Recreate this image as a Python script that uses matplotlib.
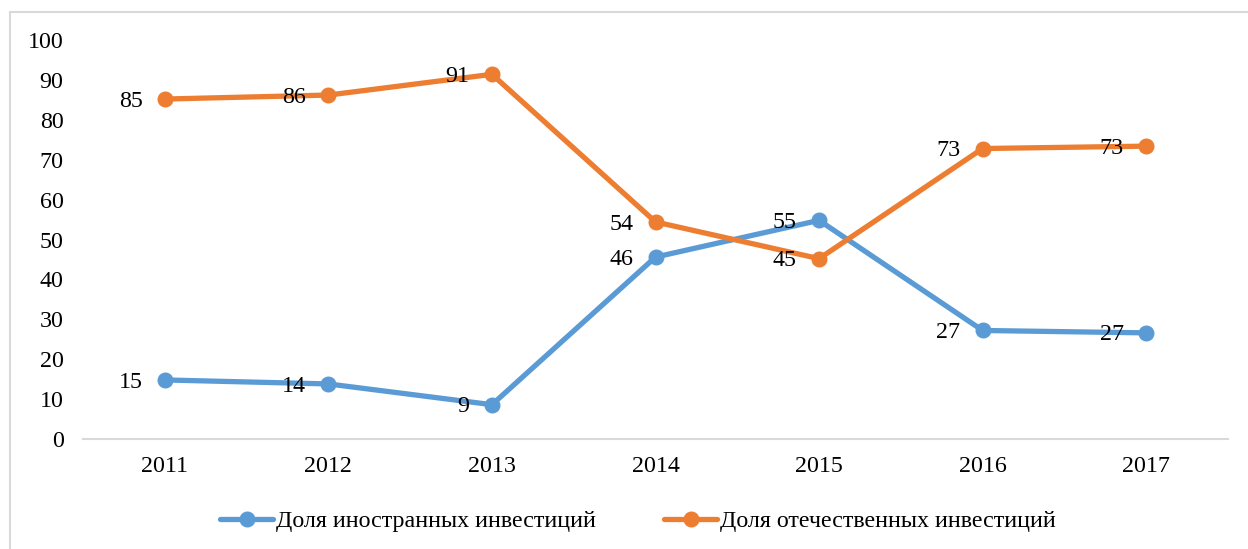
import matplotlib.pyplot as plt
from matplotlib.lines import Line2D
import numpy as np

plt.rcParams['font.family'] = ['Liberation Serif', 'DejaVu Serif']
plt.rcParams['font.size'] = 17.3

years = ['2011', '2012', '2013', '2014', '2015', '2016', '2017']
foreign = [14.8, 13.8, 8.6, 45.6, 54.8, 27.2, 26.6]
domestic = [85.2, 86.2, 91.4, 54.4, 45.2, 72.8, 73.4]
names = ['Доля иностранных инвестиций', 'Доля отечественных инвестиций']
colors = ['#5B9BD5', '#ED7D31']

fig = plt.figure(figsize=(12.48, 5.49), dpi=100)
ax = fig.add_axes([83 / 1248, 1 - 439 / 549, (1228 - 83) / 1248, 399 / 549])

x = np.arange(len(years))
for vals, name, c in zip([foreign, domestic], names, colors):
    ax.plot(x, vals, color=c, lw=3.8, marker='o', ms=10.5, label=name,
            solid_capstyle='round')
    for xi, v in zip(x, vals):
        ax.annotate(f'{v:.0f}', (xi, v), xytext=(-16, -1.5), textcoords='offset points',
                    ha='right', va='center', color='black')

ax.set_xlim(-0.5, len(years) - 0.5)
ax.set_ylim(0, 100)
ax.set_yticks(np.arange(0, 101, 10))
ax.set_xticks(x)
ax.set_xticklabels(years)
ax.tick_params(axis='y', length=0, pad=14)
ax.tick_params(axis='x', length=0, pad=12)
for s in ['top', 'right', 'left']:
    ax.spines[s].set_visible(False)
ax.spines['bottom'].set_color('#D9D9D9')
ax.spines['bottom'].set_linewidth(1.5)

fig.legend(loc='center', bbox_to_anchor=(638 / 1248, 1 - 521 / 549), ncol=2, frameon=False,
           handlelength=2.2, handletextpad=0.12, columnspacing=2.85)

# рамка
fig.add_artist(Line2D([10 / 1248, 1], [1 - 12 / 549, 1 - 12 / 549],
                      transform=fig.transFigure, color='#D9D9D9', lw=1.5))
fig.add_artist(Line2D([10 / 1248, 10 / 1248], [0, 1 - 12 / 549],
                      transform=fig.transFigure, color='#D9D9D9', lw=1.5))

fig.savefig('out.png', dpi=100)
